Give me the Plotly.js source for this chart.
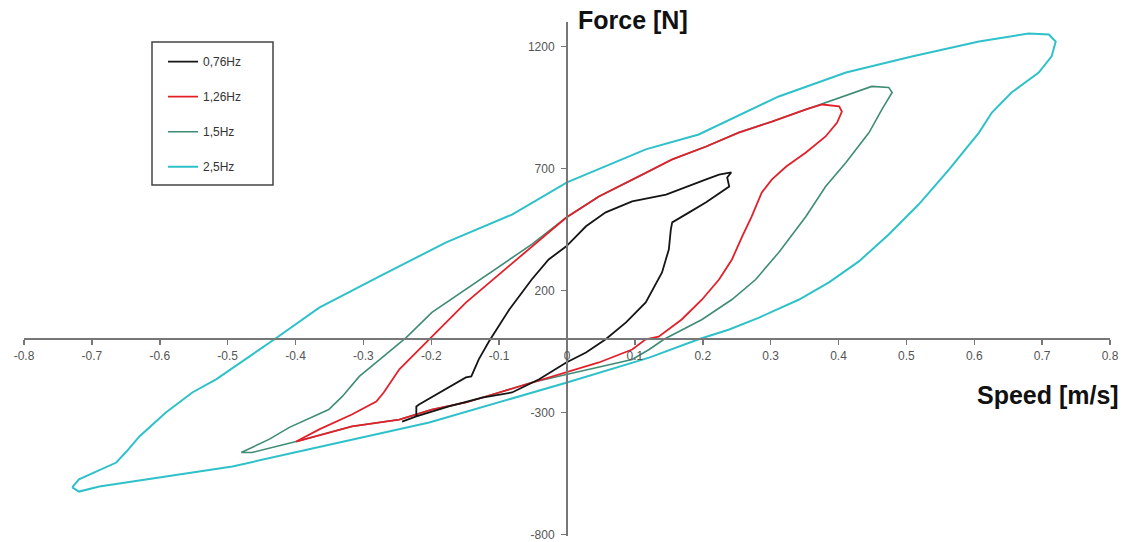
<!DOCTYPE html>
<html>
<head>
<meta charset="utf-8">
<script src="https://cdn.plot.ly/plotly-3.0.1.min.js"></script>
<style>
html,body{margin:0;padding:0;background:#fff;}
#chart{width:1129px;height:542px;}
</style>
</head>
<body>
<div id="chart"></div>
<script>
// Series names
var seriesNames = ["0,76Hz", "1,26Hz", "1,5Hz", "2,5Hz"];

// 0,76 Hz loop
var speed076 = [-0.243,-0.222,-0.222,-0.218,-0.149,-0.141,-0.130,-0.115,-0.085,-0.052,-0.027,-0.001,0.028,0.057,0.096,0.146,0.205,0.224,0.242,0.236,0.239,0.205,0.180,0.155,0.153,0.150,0.140,0.116,0.087,0.057,0.028,-0.001,-0.041,-0.081,-0.125,-0.174,-0.222,-0.243];
var force076 = [-337,-316,-275,-267,-156,-152,-82,-9,122,245,327,381,463,520,565,593,655,675,684,663,626,561,520,479,450,368,274,151,69,0,-54,-95,-164,-218,-239,-275,-316,-337];

// 1,26 Hz loop
var speed126 = [-0.399,-0.365,-0.317,-0.281,-0.270,-0.262,-0.247,-0.228,-0.203,-0.149,-0.100,-0.052,-0.001,0.047,0.106,0.155,0.205,0.253,0.302,0.352,0.376,0.401,0.405,0.398,0.381,0.352,0.323,0.302,0.287,0.272,0.258,0.243,0.224,0.199,0.169,0.135,0.116,0.096,0.047,-0.001,-0.052,-0.100,-0.149,-0.199,-0.247,-0.317,-0.399];
var force126 = [-419,-369,-308,-255,-218,-185,-123,-70,0,150,266,380,499,585,667,737,790,847,892,942,962,954,933,888,831,765,708,655,602,503,421,327,245,163,81,11,0,-42,-95,-136,-177,-218,-259,-288,-329,-357,-419];

// 1,5 Hz loop
var speed15 = [-0.480,-0.439,-0.409,-0.376,-0.351,-0.331,-0.306,-0.281,-0.252,-0.237,-0.199,-0.149,-0.100,-0.052,-0.001,0.047,0.106,0.155,0.205,0.253,0.302,0.352,0.401,0.449,0.474,0.479,0.464,0.445,0.411,0.381,0.352,0.312,0.278,0.243,0.199,0.143,0.121,0.096,-0.001,-0.052,-0.100,-0.149,-0.199,-0.247,-0.317,-0.399,-0.464,-0.480];
var force15 = [-464,-410,-361,-320,-288,-234,-152,-95,-29,7,110,204,298,389,499,585,667,737,790,847,892,942,991,1036,1032,1011,942,847,724,626,503,356,245,163,81,0,-42,-83,-144,-177,-218,-259,-288,-329,-357,-419,-464,-464];

// 2,5 Hz loop
var speed25 = [-0.729,-0.719,-0.664,-0.649,-0.630,-0.591,-0.552,-0.517,-0.431,-0.365,-0.277,-0.178,-0.081,0,0.116,0.194,0.312,0.411,0.508,0.607,0.680,0.710,0.720,0.714,0.695,0.655,0.626,0.607,0.563,0.518,0.474,0.430,0.386,0.342,0.283,0.239,0.194,0.121,0,-0.130,-0.203,-0.395,-0.493,-0.591,-0.689,-0.719,-0.729];
var force25 = [-607,-574,-505,-460,-398,-300,-218,-164,0,130,257,397,511,643,778,839,995,1093,1159,1220,1253,1249,1220,1159,1093,1011,929,847,696,552,429,319,233,163,89,40,0,-75,-177,-280,-341,-460,-521,-562,-603,-624,-607];

// Tick labels
var xTickVals = [-0.8,-0.7,-0.6,-0.5,-0.4,-0.3,-0.2,-0.1,0,0.1,0.2,0.3,0.4,0.5,0.6,0.7,0.8];
var xTickText = ["-0.8","-0.7","-0.6","-0.5","-0.4","-0.3","-0.2","-0.1","0","0.1","0.2","0.3","0.4","0.5","0.6","0.7","0.8"];
var yTickVals = [-800,-300,200,700,1200];
var yTickText = ["-800","-300","200","700","1200"];

var colors = ["#151515", "#e3202a", "#3f8c76", "#2fc1c9"];
var widths = [1.8, 1.8, 1.6, 2.0];
var xs = [speed076, speed126, speed15, speed25];
var ys = [force076, force126, force15, force25];

var traces = [];
for (var i = 0; i < 4; i++) {
  traces.push({
    x: xs[i], y: ys[i], name: seriesNames[i], type: "scatter", mode: "lines",
    legendgroup: "g" + i, legendrank: i + 1,
    line: {color: colors[i], width: widths[i]}
  });
}
// draw order: cyan, green, red, black on top
var drawOrder = [3, 2, 1, 0];
var data = drawOrder.map(function(k){ return traces[k]; });

var axisFont = {family: "Liberation Sans, Arial, sans-serif", size: 12, color: "#555"};

var layout = {
  width: 1129, height: 542,
  margin: {l: 24, r: 19, t: 22, b: 6, pad: 0},
  paper_bgcolor: "#fff", plot_bgcolor: "#fff",
  showlegend: true,
  legend: {
    x: 0.128, y: 0.951, xanchor: "left", yanchor: "top",
    bgcolor: "rgba(0,0,0,0)", borderwidth: 0,
    font: {family: "Liberation Sans, Arial, sans-serif", size: 12, color: "#333"},
    traceorder: "grouped", tracegroupgap: 16, itemwidth: 30
  },
  xaxis: {
    range: [-0.8, 0.8], anchor: "free", position: 806/2106,
    showgrid: false, zeroline: false, showline: true, linecolor: "#777", linewidth: 2,
    ticks: "outside", ticklen: 5, tickwidth: 1.5, tickcolor: "#777",
    tickmode: "array", tickvals: xTickVals, ticktext: xTickText,
    tickfont: axisFont, fixedrange: true
  },
  yaxis: {
    range: [-806, 1300], anchor: "free", position: 0.5,
    showgrid: false, zeroline: false, showline: true, linecolor: "#777", linewidth: 2,
    ticks: "outside", ticklen: 5, tickwidth: 1.5, tickcolor: "#777",
    tickmode: "array", tickvals: yTickVals, ticktext: yTickText,
    tickfont: axisFont, ticklabelstandoff: 4, ticklabeloverflow: "allow", fixedrange: true
  },
  shapes: [{
    type: "rect", xref: "paper", yref: "paper",
    x0: (152-24)/1086, x1: (273-24)/1086, y0: (536-185)/514, y1: (536-42)/514,
    line: {color: "#444", width: 1.5}, fillcolor: "rgba(0,0,0,0)", layer: "above"
  }],
  annotations: [
    {text: "<b>Force [N]</b>", xref: "paper", yref: "paper", x: (576-24)/1086, y: (536-20)/514,
     xanchor: "left", yanchor: "middle", showarrow: false,
     font: {family: "Liberation Sans, Arial, sans-serif", size: 25, color: "#111"}},
    {text: "<b>Speed [m/s]</b>", xref: "paper", yref: "paper", x: (1121-24)/1086, y: (536-395)/514,
     xanchor: "right", yanchor: "middle", showarrow: false,
     font: {family: "Liberation Sans, Arial, sans-serif", size: 25, color: "#111"}}
  ]
};

Plotly.newPlot("chart", data, layout, {staticPlot: true, displayModeBar: false});
</script>
</body>
</html>
